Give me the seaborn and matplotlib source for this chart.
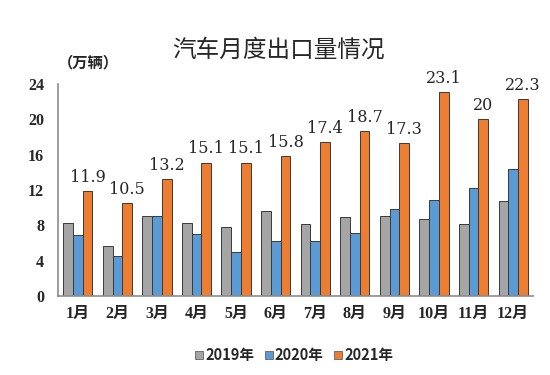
import pandas as pd
import matplotlib
matplotlib.use('Agg')
import matplotlib.pyplot as plt
import seaborn as sns

# Data (万辆)
months = ['1月', '2月', '3月', '4月', '5月', '6月', '7月', '8月', '9月', '10月', '11月', '12月']
y2019 = [8.3, 5.7, 9.0, 8.3, 7.8, 9.6, 8.1, 8.9, 9.0, 8.7, 8.2, 10.7]
y2020 = [6.9, 4.5, 9.1, 7.0, 5.0, 6.2, 6.2, 7.1, 9.9, 10.9, 12.2, 14.4]
y2021 = [11.9, 10.5, 13.2, 15.1, 15.1, 15.8, 17.4, 18.7, 17.3, 23.1, 20, 22.3]
series = ['2019年', '2020年', '2021年']
labels_2021 = ['11.9', '10.5', '13.2', '15.1', '15.1', '15.8', '17.4', '18.7', '17.3', '23.1', '20', '22.3']

df = pd.DataFrame({'月份': months, '2019年': y2019, '2020年': y2020, '2021年': y2021})
df_long = df.melt(id_vars='月份', var_name='年份', value_name='出口量')

sns.set_theme(style='white')
plt.rcParams['font.family'] = ['Liberation Serif', 'Noto Sans CJK SC', 'DejaVu Sans']
cjk = ['Noto Sans CJK SC', 'DejaVu Sans']

colors = ['#A5A5A5', '#5B9BD5', '#ED7D31']

fig = plt.figure(figsize=(5.5, 3.75), dpi=100)
ax = fig.add_axes([0.1055, 0.2107, 0.8635, 0.5653])

sns.barplot(data=df_long, x='月份', y='出口量', hue='年份', hue_order=series,
            palette=colors, width=0.74, edgecolor='#3a3a3a', linewidth=0.7,
            saturation=1, ax=ax, legend=True)

# value labels on 2021 bars
for i, v in enumerate(y2021):
    ax.text(i + 0.74 / 3, v + 0.6, labels_2021[i], ha='center', va='bottom',
            fontsize=11.5, family=['DejaVu Serif'])

ax.set_ylim(0, 24)
ax.set_xlim(-0.5, 11.5)
ax.set_yticks(range(0, 25, 4))
ax.set_xlabel('')
ax.set_ylabel('')
for lab in ax.get_yticklabels():
    lab.set_fontweight('bold')
    lab.set_fontsize(11.5)
for lab in ax.get_xticklabels():
    lab.set_fontweight('bold')
    lab.set_fontsize(11.5)
    lab.set_family(['Liberation Serif', 'Noto Sans CJK SC'])
ax.tick_params(axis='y', pad=10, length=0)
ax.tick_params(axis='x', pad=7, length=0)

for s in ['top', 'right']:
    ax.spines[s].set_visible(False)
for s in ['left', 'bottom']:
    ax.spines[s].set_color('#8c8c8c')
    ax.spines[s].set_linewidth(1.2)

# legend
leg = ax.legend(loc='center', bbox_to_anchor=(0.535, 0.053), bbox_transform=fig.transFigure,
                ncol=3, frameon=False, handlelength=0.55, handleheight=0.55,
                handletextpad=0.15, columnspacing=0.7, prop={'family': cjk, 'size': 10.5, 'weight': 'bold'})
for h in leg.legend_handles:
    h.set_edgecolor('#707070')

fig.text(0.506, 0.866, '汽车月度出口量情况', ha='center', va='center',
         fontsize=17, family=cjk)
fig.text(0.161, 0.833, '（万辆）', ha='center', va='center',
         fontsize=11, fontweight='bold', family=cjk)

fig.savefig('out.png', dpi=100)
